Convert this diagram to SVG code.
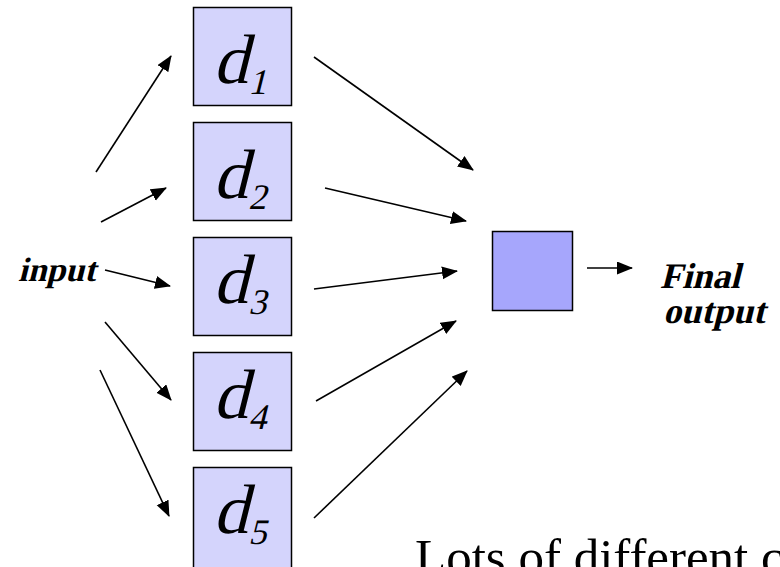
<svg xmlns="http://www.w3.org/2000/svg" width="780" height="567" viewBox="0 0 780 567">
  <style>
    .bg { fill: #ffffff; }
    .member { fill: #d4d4fc; stroke: #000000; stroke-width: 1.5; }
    .combiner { fill: #a6a6fc; stroke: #000000; stroke-width: 1.5; }
    .sym { font-family: "Liberation Serif", serif; fill: #000000; }
    .d { font-size: 70px; }
    .sub { font-size: 36px; }
    .label { font-family: "Liberation Serif", serif; font-weight: bold; fill: #000000; }
    .caption { font-family: "Liberation Serif", serif; font-size: 51px; fill: #000000; }
    .edge { stroke: #000000; stroke-width: 1.6; fill: none; marker-end: url(#head); }
  </style>
  <defs>
    <marker id="head" markerUnits="userSpaceOnUse" markerWidth="16" markerHeight="14" refX="15" refY="6.5" orient="auto">
      <path d="M0,0 L16,6.5 L0,13 Z" fill="#000000"/>
    </marker>
  </defs>

  <rect class="bg" x="0" y="0" width="780" height="567"/>

  <!-- ensemble members; symbols are slanted about their baseline -->
  <g id="d1">
    <rect class="member" x="193.5" y="7.5" width="98" height="98"/>
    <text class="sym" transform="translate(213,83) skewX(-14)"><tspan class="d">d</tspan><tspan class="sub" dx="3" dy="11">1</tspan></text>
  </g>
  <g id="d2">
    <rect class="member" x="193.5" y="122.5" width="98" height="98"/>
    <text class="sym" transform="translate(213,198) skewX(-14)"><tspan class="d">d</tspan><tspan class="sub" dx="3" dy="11">2</tspan></text>
  </g>
  <g id="d3">
    <rect class="member" x="193.5" y="237.5" width="98" height="98"/>
    <text class="sym" transform="translate(213,303) skewX(-14)"><tspan class="d">d</tspan><tspan class="sub" dx="3" dy="11">3</tspan></text>
  </g>
  <g id="d4">
    <rect class="member" x="193.5" y="352.5" width="98" height="98"/>
    <text class="sym" transform="translate(213,418) skewX(-14)"><tspan class="d">d</tspan><tspan class="sub" dx="3" dy="11">4</tspan></text>
  </g>
  <g id="d5">
    <rect class="member" x="193.5" y="467.5" width="98" height="102"/>
    <text class="sym" transform="translate(213,533) skewX(-14)"><tspan class="d">d</tspan><tspan class="sub" dx="3" dy="11">5</tspan></text>
  </g>

  <!-- combiner -->
  <g id="combiner">
    <rect class="combiner" x="492.5" y="231.5" width="80" height="79"/>
  </g>

  <!-- labels -->
  <g id="input">
    <text class="label" font-size="34" transform="translate(18,281) skewX(-14)">input</text>
  </g>
  <g id="final-output">
    <text class="label" font-size="36" transform="translate(660,288) skewX(-14)">Final</text>
    <text class="label" font-size="36" transform="translate(663,323) skewX(-14)">output</text>
  </g>

  <!-- connectors -->
  <g id="connectors">
    <line class="edge" x1="96" y1="172" x2="171" y2="56"/>
    <line class="edge" x1="101" y1="222" x2="166" y2="188"/>
    <line class="edge" x1="105" y1="270" x2="170" y2="286"/>
    <line class="edge" x1="105" y1="322" x2="171" y2="400"/>
    <line class="edge" x1="100" y1="370" x2="169" y2="516"/>

    <line class="edge" x1="314" y1="57" x2="473" y2="170"/>
    <line class="edge" x1="325" y1="188" x2="466" y2="221"/>
    <line class="edge" x1="314" y1="289" x2="457" y2="271"/>
    <line class="edge" x1="316" y1="401" x2="456" y2="321"/>
    <line class="edge" x1="314" y1="518" x2="467" y2="371"/>

    <line class="edge" x1="587" y1="268" x2="632" y2="268"/>
  </g>

  <text class="caption" x="415" y="574">Lots of different c</text>
</svg>
